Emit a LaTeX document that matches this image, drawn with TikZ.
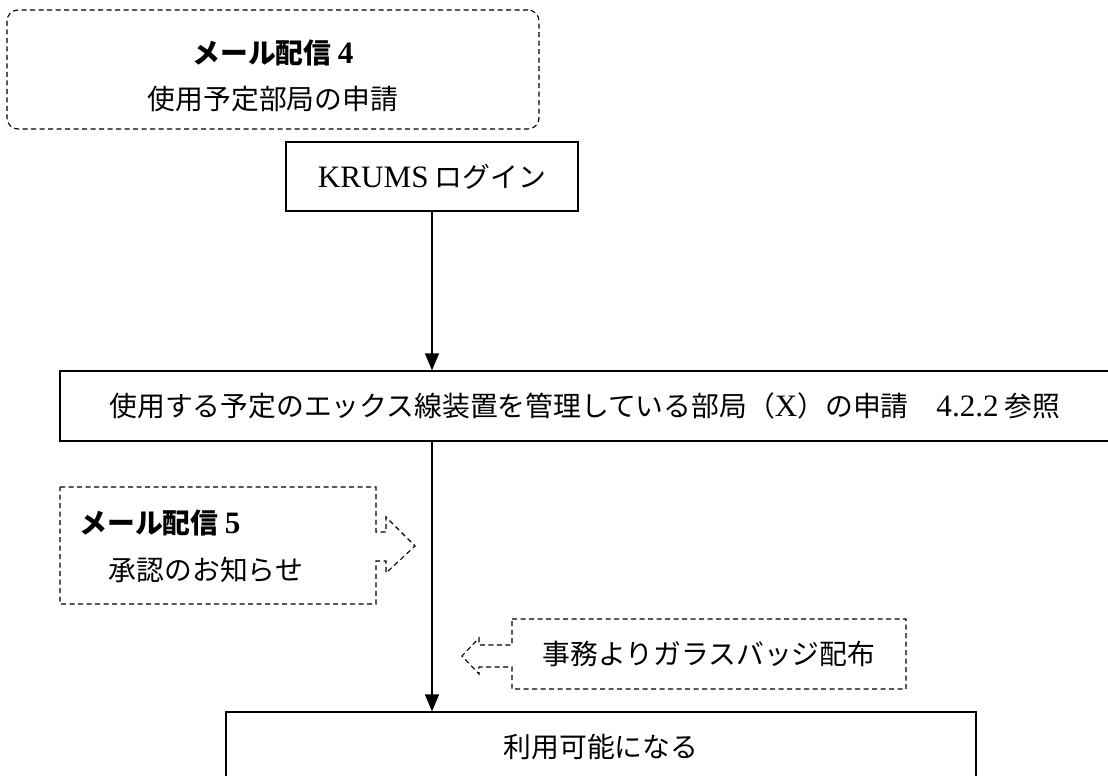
\documentclass[tikz,border=0pt]{standalone}
\usepackage{fontspec}
\setmainfont{Noto Sans CJK JP}
\newfontfamily\lat[Scale=1.12]{Liberation Serif}
\usetikzlibrary{arrows.meta}
\begin{document}
\begin{tikzpicture}[x=1pt,y=-1pt,
  solidbox/.style={draw, line width=1.3pt, inner sep=0pt},
  dashbox/.style={draw, line width=1.1pt, dash pattern=on 5pt off 3.5pt},
  lbl/.style={font=\fontsize{27.8}{32}\selectfont, inner sep=0pt, anchor=center},
  boldlbl/.style={lbl, font=\fontsize{27.8}{32}\selectfont\bfseries},
  flow/.style={line width=1.3pt, -{Triangle[length=17pt,width=14pt]}}]
\useasboundingbox (0,0) rectangle (1108,776);
\begin{scope}
\clip (0,0) rectangle (1108,776);
% top dashed rounded box
\node[dashbox, rounded corners=11pt, minimum width=532pt, minimum height=119pt] (m4box) at (273,69.5) {};
\node[boldlbl] (m4a) at (273,53) {メール配信 {\lat 4}};
\node[lbl] (m4b) at (273,99) {使用予定部局の申請};
% KRUMS login
\node[solidbox, minimum width=292pt, minimum height=69pt, lbl] (krums) at (432,176.5) {{\lat KRUMS} ログイン};
% big box
\node[solidbox, minimum width=1050pt, minimum height=70pt, lbl] (big) at (585,406)
  {使用する予定のエックス線装置を管理している部局（{\lat X}）の申請　{\lat 4.2.2} 参照};
% final box
\node[solidbox, minimum width=750pt, minimum height=90pt] (finalbox) at (601,757) {};
\node[lbl] (avail) at (601,747) {利用可能になる};
% connectors
\draw[flow] (krums.south) -- (krums.south |- big.north);
\draw[flow] (big.south -| krums.south) -- (finalbox.north -| krums.south);
% mail 5 callout box
\coordinate (m5tl) at (60,487);
\coordinate (m5tip) at (415,546);
\draw[dashbox] (m5tl) -- (376,487) -- (376,532) -- (386,532) -- (386,517) -- (m5tip)
  -- (386,573) -- (386,561) -- (376,561) -- (376,604) -- (60,604) -- cycle;
\node[boldlbl] (m5a) at (160,523) {メール配信 {\lat 5}};
\node[lbl] (m5b) at (206,570) {承認のお知らせ};
% badge callout box
\coordinate (bdtl) at (512,619);
\coordinate (bdtip) at (462,656);
\draw[dashbox] (bdtl) -- (906,619) -- (906,689) -- (512,689) -- (512,667) -- (479,667)
  -- (479,674) -- (bdtip) -- (479,638) -- (479,645) -- (512,645) -- cycle;
\node[lbl] (badge) at (709,654) {事務よりガラスバッジ配布};
\end{scope}
\end{tikzpicture}
\end{document}
